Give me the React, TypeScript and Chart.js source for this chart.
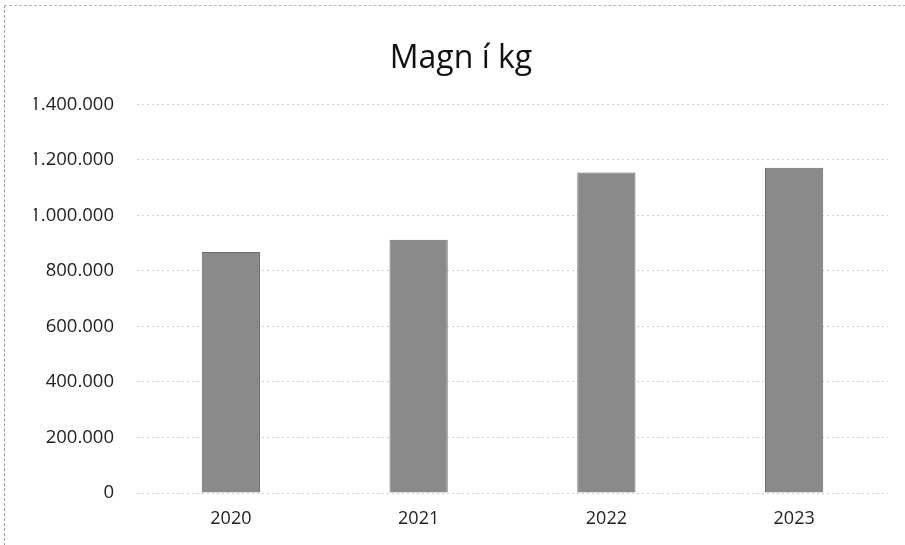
import React, { useEffect, useRef } from "react";
import { Chart, registerables } from "chart.js";

Chart.register(...registerables);

const categories = ["2020", "2021", "2022", "2023"];
const values = [868000, 912000, 1155000, 1172000];
const yTicks = [0, 200000, 400000, 600000, 800000, 1000000, 1200000, 1400000];
const titleText = "Magn í kg";

const fmt = (v: number) => String(Math.round(v)).replace(/\B(?=(\d{3})+(?!\d))/g, ".");

export default function App() {
  const ref = useRef<HTMLCanvasElement | null>(null);
  useEffect(() => {
    if (!ref.current) return;
    const chart = new Chart(ref.current, {
      type: "bar",
      data: {
        labels: categories,
        datasets: [
          {
            data: values,
            backgroundColor: "#8a8a8a",
            borderColor: "#6a6a6a",
            borderWidth: 1,
            barPercentage: 0.62,
            categoryPercentage: 0.5,
          },
        ],
      },
      options: {
        animation: false,
        responsive: false,
        layout: { padding: { left: 34, right: 17, top: 0, bottom: 0 } },
        plugins: {
          legend: { display: false },
          tooltip: { enabled: false },
          title: {
            display: true,
            text: titleText,
            color: "#111",
            font: { family: "Open Sans", size: 32, weight: "normal" },
            padding: { top: 40, bottom: 26 },
          },
        },
        scales: {
          x: {
            grid: { display: false, drawTicks: false },
            border: { display: false },
            ticks: {
              color: "#222",
              font: { family: "Open Sans", size: 18 },
              padding: 15,
            },
            afterFit: (s: any) => {
              s.height = 52;
            },
          },
          y: {
            min: 0,
            max: 1400000,
            afterBuildTicks: (s: any) => {
              s.ticks = yTicks.map((v) => ({ value: v }));
            },
            grid: { color: "#cdcdcd", drawTicks: false, lineWidth: 1 },
            border: { display: false, dash: [2, 3] },
            ticks: {
              color: "#222",
              font: { family: "Open Sans", size: 18.5 },
              padding: 23,
              callback: (v: any) => fmt(Number(v)),
            },
            afterFit: (s: any) => {
              s.width = 103;
            },
          },
        },
      },
    });
    return () => chart.destroy();
  }, []);
  return (
    <div
      style={{
        position: "fixed",
        left: 0,
        top: 0,
        width: 905,
        height: 545,
        background: "#fff",
      }}
    >
      <div
        style={{
          position: "absolute",
          left: 4,
          top: 5,
          width: 901,
          height: 540,
          borderLeft: "1px dashed #9a9a9a",
          borderTop: "1px dashed #b8b8b8",
          pointerEvents: "none",
        }}
      />
      <canvas ref={ref} width={905} height={545} style={{ position: "absolute", left: 0, top: 0 }} />
    </div>
  );
}
